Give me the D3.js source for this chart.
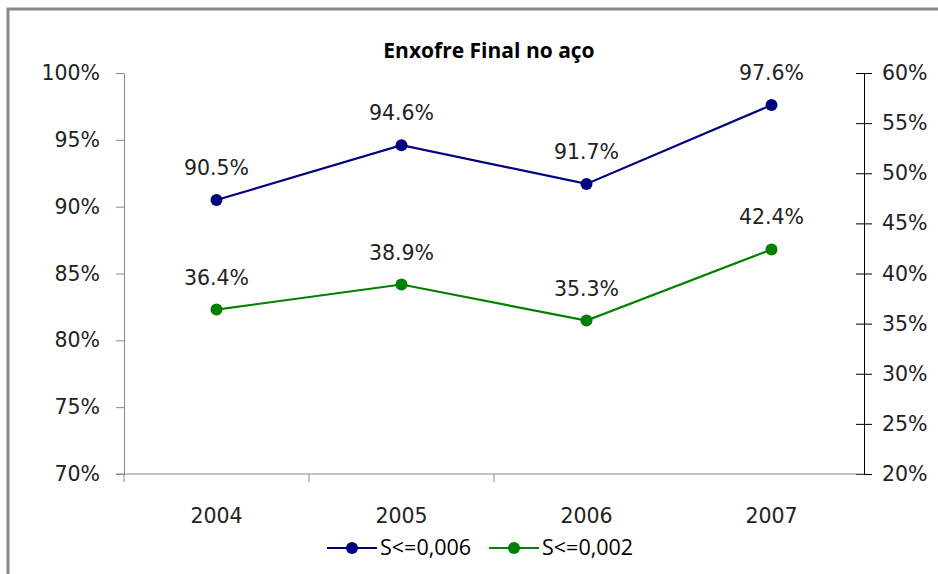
<!DOCTYPE html>
<html>
<head>
<meta charset="utf-8">
<script src="https://cdn.jsdelivr.net/npm/d3@7"></script>
<style>
    body { margin: 0; background: #fff; }
    svg { display: block; }
</style>
</head>
<body>
<svg id="chart" width="938" height="574"></svg>
<script>
// Enxofre Final no aço - two series on separate y axes
const years = ['2004', '2005', '2006', '2007'];
const seriesA = [0.905, 0.946, 0.917, 0.976];   // S<=0,006 (left axis)
const seriesB = [0.364, 0.389, 0.353, 0.424];   // S<=0,002 (right axis)
const leftTicks = [0.70, 0.75, 0.80, 0.85, 0.90, 0.95, 1.00];
const rightTicks = [0.20, 0.25, 0.30, 0.35, 0.40, 0.45, 0.50, 0.55, 0.60];
const seriesNames = ['S<=0,006', 'S<=0,002'];

const svg = d3.select('#chart');
const plot = { left: 124, right: 864, top: 73, bottom: 474 };
const labelFont = '"DejaVu Sans", Verdana, sans-serif';

// outer frame (only left/top edges visible in the picture)
svg.append('rect')
    .attr('x', 8).attr('y', 9)
    .attr('width', 960).attr('height', 600)
    .attr('fill', 'none')
    .attr('stroke', '#888')
    .attr('stroke-width', 3);

// title
svg.append('text')
    .attr('x', 489).attr('y', 58)
    .attr('text-anchor', 'middle')
    .attr('font-family', '"Open Sans", sans-serif')
    .attr('font-weight', 'bold')
    .attr('font-size', '21px')
    .attr('fill', '#000')
    .text('Enxofre Final no aço');

const x = d3.scaleBand().domain(years).range([plot.left, plot.right]);
const yLeft = d3.scaleLinear().domain([0.70, 1.00]).range([plot.bottom, plot.top]);
const yRight = d3.scaleLinear().domain([0.20, 0.60]).range([plot.bottom, plot.top]);
const pct0 = d3.format('.0%');
const pct1 = d3.format('.1%');

// left axis
const gLeft = svg.append('g')
    .attr('transform', `translate(${plot.left},0)`)
    .call(d3.axisLeft(yLeft).tickValues(leftTicks).tickFormat(pct0).tickSize(8).tickSizeOuter(0).tickPadding(16));
gLeft.select('.domain').attr('stroke', '#888');
gLeft.selectAll('.tick line').attr('stroke', '#888');

// right axis
const gRight = svg.append('g')
    .attr('transform', `translate(${plot.right},0)`)
    .call(d3.axisRight(yRight).tickValues(rightTicks).tickFormat(pct0).tickSize(0).tickSizeOuter(0).tickPadding(18));
gRight.select('.domain').attr('stroke', '#000');
gRight.selectAll('.tick line')
    .attr('x1', -8).attr('x2', 8)
    .attr('stroke', '#000');

// bottom axis
const gBottom = svg.append('g')
    .attr('transform', `translate(0,${plot.bottom})`)
    .call(d3.axisBottom(x).tickSize(0).tickSizeOuter(0).tickPadding(34));
gBottom.select('.domain').attr('stroke', '#888').attr('d', `M${plot.left - 8},0H${plot.right}`);
// category boundary ticks
gBottom.selectAll('.cat-tick')
    .data(years.slice(0, 3))
    .enter()
    .append('line')
    .attr('class', 'cat-tick')
    .attr('x1', d => x(d)).attr('x2', d => x(d))
    .attr('y1', 0).attr('y2', 8)
    .attr('stroke', '#888');

[gLeft, gRight, gBottom].forEach(g => {
    g.selectAll('.tick text')
        .attr('font-family', labelFont)
        .attr('font-size', '20.5px')
        .attr('fill', '#222');
});

// draw a line series
function drawSeries(values, yScale, color) {
    const pts = values.map((v, i) => ({ year: years[i], v }));
    const cx = d => x(d.year) + x.bandwidth() / 2;

    svg.append('path')
        .datum(pts)
        .attr('fill', 'none')
        .attr('stroke', color)
        .attr('stroke-width', 2.2)
        .attr('d', d3.line().x(cx).y(d => yScale(d.v)));

    svg.selectAll(null)
        .data(pts)
        .enter()
        .append('circle')
        .attr('cx', cx)
        .attr('cy', d => yScale(d.v))
        .attr('r', 6)
        .attr('fill', color);

    svg.selectAll(null)
        .data(pts)
        .enter()
        .append('text')
        .attr('x', cx)
        .attr('y', d => yScale(d.v) - 25)
        .attr('text-anchor', 'middle')
        .attr('font-family', labelFont)
        .attr('font-size', '20.5px')
        .attr('fill', '#222')
        .text(d => pct1(d.v));
}

drawSeries(seriesA, yLeft, '#000080');
drawSeries(seriesB, yRight, '#008000');

// legend
const legend = svg.append('g').attr('transform', 'translate(327,548)');
const legendItems = [
    { name: seriesNames[0], color: '#000080', dx: 0 },
    { name: seriesNames[1], color: '#008000', dx: 162 }
];
legendItems.forEach(item => {
    const g = legend.append('g').attr('transform', `translate(${item.dx},0)`);
    g.append('line')
        .attr('x1', 0).attr('x2', 50)
        .attr('stroke', item.color)
        .attr('stroke-width', 2.2);
    g.append('circle')
        .attr('cx', 25).attr('r', 6)
        .attr('fill', item.color);
    g.append('text')
        .attr('x', 53).attr('y', 7)
        .attr('font-family', '"Open Sans", sans-serif')
        .attr('font-size', '21.5px')
        .attr('fill', '#000')
        .text(item.name);
});
</script>
</body>
</html>
